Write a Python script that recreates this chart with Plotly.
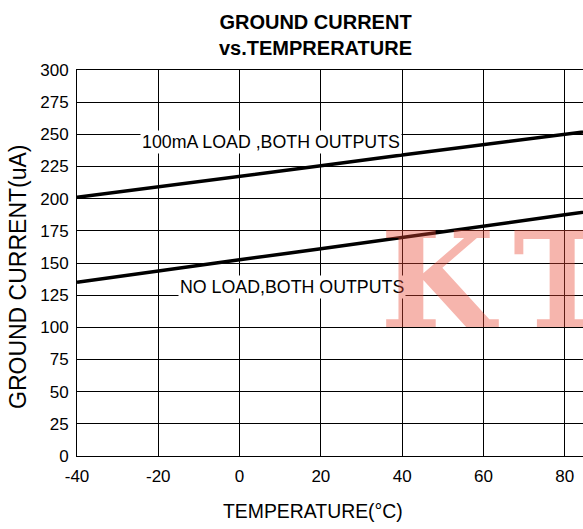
import plotly.graph_objects as go

# Data
temperature = [-40, -20, 0, 20, 40, 60, 80, 100]
load_100mA = [201, 209, 217.5, 225.5, 234, 242, 250, 258]
no_load = [135, 144, 152.5, 161, 170, 178.5, 187.5, 196]

y_ticks = list(range(0, 301, 25))
x_ticks = [-40, -20, 0, 20, 40, 60, 80]
x_tick_labels = ["-40", "-20", "0", "20", "40", "60", "80"]

ARIAL = "Liberation Sans, Arial, sans-serif"

fig = go.Figure()
fig.add_trace(go.Scatter(x=temperature, y=load_100mA, mode="lines",
                         line=dict(color="black", width=3.5), showlegend=False))
fig.add_trace(go.Scatter(x=temperature, y=no_load, mode="lines",
                         line=dict(color="black", width=3.5), showlegend=False))

fig.update_layout(
    width=583, height=529,
    margin=dict(l=77, r=0, t=70, b=73),
    paper_bgcolor="white", plot_bgcolor="white",
    font=dict(family=ARIAL, color="black"),
    xaxis=dict(range=[-40, 84.5], tickvals=x_ticks, ticktext=x_tick_labels, showgrid=True,
               gridcolor="black", gridwidth=1, zeroline=False,
               showline=True, linecolor="black", linewidth=1, mirror=True,
               ticks="", tickfont=dict(size=17, family=ARIAL),
               ticklabelstandoff=5),
    yaxis=dict(range=[0, 300], tickvals=y_ticks, showgrid=True,
               gridcolor="black", gridwidth=1, zeroline=False,
               showline=True, linecolor="black", linewidth=1,
               ticks="", tickfont=dict(size=17, family=ARIAL),
               ticklabelstandoff=4),
)

def px_x(px):
    return (px - 77) / 506

def px_y(py):
    return (456 - py) / 386

ann = []
ann.append(dict(text="<b>GROUND CURRENT<br>vs.TEMPRERATURE</b>", xref="paper", yref="paper",
                x=px_x(315), y=px_y(35.5), xanchor="center", yanchor="middle",
                showarrow=False, font=dict(family=ARIAL, size=20, color="black")))
ann.append(dict(text="TEMPERATURE(°C)", xref="paper", yref="paper",
                x=px_x(313), y=px_y(511), xanchor="center", yanchor="middle",
                showarrow=False, font=dict(family=ARIAL, size=19.4, color="black")))
ann.append(dict(text="GROUND CURRENT(uA)", xref="paper", yref="paper", textangle=-90,
                x=px_x(18), y=px_y(277), xanchor="center", yanchor="middle",
                showarrow=False, font=dict(family=ARIAL, size=23, color="black")))
ann.append(dict(text="100mA LOAD ,BOTH OUTPUTS", xref="x", yref="y", x=7.7, y=244,
                xanchor="center", yanchor="middle", showarrow=False, bgcolor="white",
                font=dict(family=ARIAL, size=17.8, color="black")))
ann.append(dict(text="NO LOAD,BOTH OUTPUTS", xref="x", yref="y", x=12.9, y=131,
                xanchor="center", yanchor="middle", showarrow=False, bgcolor="white",
                font=dict(family=ARIAL, size=17.8, color="black")))
# watermark
ann.append(dict(text="<b>K</b>", xref="paper", yref="paper",
                x=px_x(439), y=px_y(280), xanchor="center", yanchor="middle",
                showarrow=False, font=dict(family="DejaVu Serif", size=132, color="rgba(232,70,50,0.4)")))
ann.append(dict(text="<b>T</b>", xref="paper", yref="paper",
                x=px_x(562), y=px_y(280), xanchor="center", yanchor="middle",
                showarrow=False, font=dict(family="DejaVu Serif", size=132, color="rgba(232,70,50,0.4)")))
fig.update_layout(annotations=ann)

fig.write_html("out.html", config={"displayModeBar": False},
               post_script="document.body.style.margin='0';document.body.style.overflow='hidden';")
